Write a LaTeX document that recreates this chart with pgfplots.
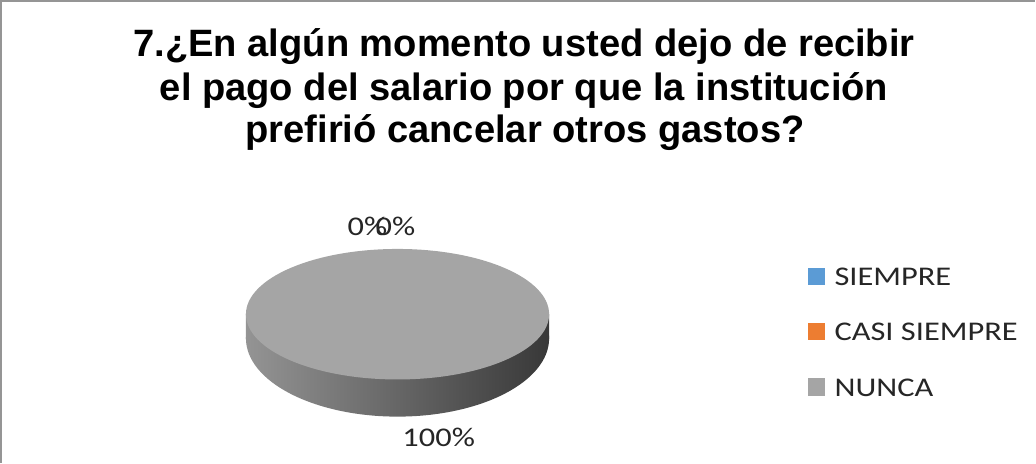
\documentclass[border=0pt]{standalone}
\usepackage{fontspec}
\setmainfont{Carlito}
\newfontfamily\titlefont{Liberation Sans}
\usepackage{graphicx}
\usepackage{pgfplots}
\usepackage{pgfplotstable}
\pgfplotsset{compat=1.18}
\definecolor{cSiempre}{HTML}{5B9BD5}
\definecolor{cCasi}{HTML}{ED7D31}
\definecolor{cNunca}{HTML}{A5A5A5}
\definecolor{frameGray}{HTML}{959595}
\definecolor{txt}{HTML}{262626}

\pgfplotstableread[col sep=comma]{
label,value
SIEMPRE,0
CASI SIEMPRE,0
NUNCA,100
}\piedata
\pgfplotstablegetelem{0}{value}\of\piedata \let\vSiempre\pgfplotsretval
\pgfplotstablegetelem{1}{value}\of\piedata \let\vCasi\pgfplotsretval
\pgfplotstablegetelem{2}{value}\of\piedata \let\vNunca\pgfplotsretval

\newcommand{\lbl}[1]{\scalebox{1.2}[1]{\fontsize{15.3}{18}\selectfont\color{txt}#1}}
\newcommand{\ttl}{\titlefont\bfseries\fontsize{21.6}{26}\selectfont}

\begin{document}
\begin{tikzpicture}
\begin{axis}[
  width=20.72cm, height=9.36cm, scale only axis,
  xmin=0, xmax=1036, ymin=0, ymax=468,
  axis lines=none, ticks=none, clip=false,
]
% frame (top and left edges only)
\draw[frameGray, line width=1.1pt] (axis cs:6,0) -- (axis cs:6,460) -- (axis cs:1036,460);

% title
\node[anchor=base, font=\ttl] at (axis cs:527,405) {7.¿En algún momento usted dejo de recibir};
\node[anchor=base, font=\ttl] at (axis cs:527,361) {el pago del salario por que la institución};
\node[anchor=base, font=\ttl] at (axis cs:528,319) {prefirió cancelar otros gastos?};

% pie: NUNCA = 100 % fills the whole disc
\path[left color=black!42, right color=black!78, middle color=black!60]
  (axis cs:401,124) ellipse [x radius=151, y radius=78];
\path[left color=black!42, right color=black!78, middle color=black!60]
  (axis cs:250,124) rectangle (axis cs:552,148);
\fill[cNunca] (axis cs:401,148) ellipse [x radius=151, y radius=65];

% data labels
\node at (axis cs:371,235) {\lbl{\vSiempre\%}};
\node at (axis cs:399,235) {\lbl{\vCasi\%}};
\node at (axis cs:442,25) {\lbl{\vNunca\%}};

% legend
\fill[cSiempre] (axis cs:810,177) rectangle (axis cs:827,194);
\node[anchor=west, inner sep=0pt] at (axis cs:836,185) {\lbl{SIEMPRE}};
\fill[cCasi] (axis cs:810,122) rectangle (axis cs:827,139);
\node[anchor=west, inner sep=0pt] at (axis cs:836,130) {\lbl{CASI SIEMPRE}};
\fill[cNunca] (axis cs:810,67) rectangle (axis cs:827,84);
\node[anchor=west, inner sep=0pt] at (axis cs:836,75) {\lbl{NUNCA}};
\end{axis}
\end{tikzpicture}
\end{document}
